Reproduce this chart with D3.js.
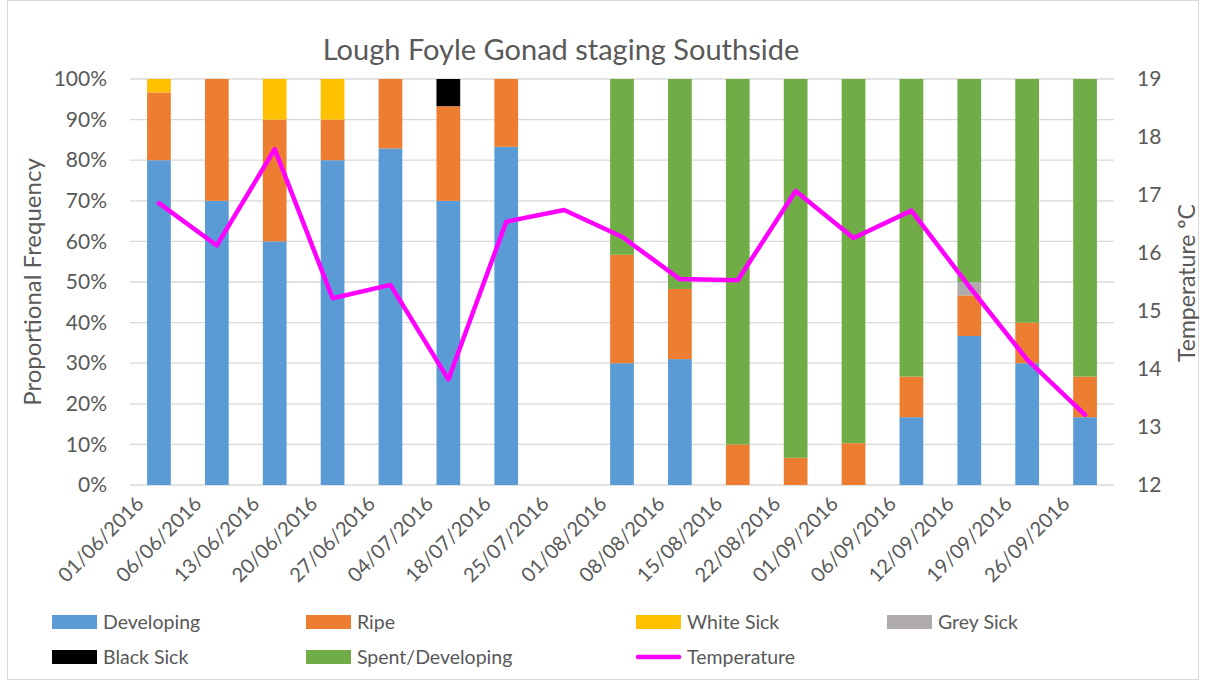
<!DOCTYPE html>
<html>
<head>
<meta charset="utf-8">
<script src="https://cdnjs.cloudflare.com/ajax/libs/d3/7.8.5/d3.min.js"></script>
<style>
  body { margin: 0; background: #fff; }
  text { font-family: Lato, "Open Sans", sans-serif; fill: #595959; }
</style>
</head>
<body>
<div id="chart"></div>
<script>
// sample dates (x categories)
var dates = ["01/06/2016","06/06/2016","13/06/2016","20/06/2016","27/06/2016","04/07/2016",
             "18/07/2016","25/07/2016","01/08/2016","08/08/2016","15/08/2016","22/08/2016",
             "01/09/2016","06/09/2016","12/09/2016","19/09/2016","26/09/2016"];

// gonad stage proportions, in %
var developing = [80, 70, 60, 80, 82.9, 70, 83.3, 0, 30, 31, 0, 0, 0, 16.7, 36.7, 30, 16.7];
var ripe       = [16.7, 30, 30, 10, 17.1, 23.3, 16.7, 0, 26.7, 17.3, 10, 6.7, 10.3, 10, 10, 10, 10];
var whiteSick  = [3.3, 0, 10, 10, 0, 0, 0, 0, 0, 0, 0, 0, 0, 0, 0, 0, 0];
var greySick   = [0, 0, 0, 0, 0, 0, 0, 0, 0, 0, 0, 0, 0, 0, 3.3, 0, 0];
var blackSick  = [0, 0, 0, 0, 0, 6.7, 0, 0, 0, 0, 0, 0, 0, 0, 0, 0, 0];
var spent      = [0, 0, 0, 0, 0, 0, 0, 0, 43.3, 51.7, 90, 93.3, 89.7, 73.3, 50, 60, 73.3];

// water temperature, deg C (right axis)
var temperature = [16.86, 16.13, 17.79, 15.22, 15.45, 13.82, 16.54, 16.74, 16.28,
                   15.55, 15.53, 17.07, 16.26, 16.73, 15.42, 14.16, 13.21];

var pctTicks  = [0, 0.1, 0.2, 0.3, 0.4, 0.5, 0.6, 0.7, 0.8, 0.9, 1];
var tempTicks = [12, 13, 14, 15, 16, 17, 18, 19];

var series = [
  {key: "Developing",      values: developing, color: "#5B9BD5"},
  {key: "Ripe",            values: ripe,       color: "#ED7D31"},
  {key: "White Sick",      values: whiteSick,  color: "#FFC000"},
  {key: "Grey Sick",       values: greySick,   color: "#AFABAB"},
  {key: "Black Sick",      values: blackSick,  color: "#000000"},
  {key: "Spent/Developing",values: spent,      color: "#70AD47"}
];

// rows for d3.stack
var rows = dates.map(function(d, i) {
  var r = {date: d};
  series.forEach(function(s) { r[s.key] = s.values[i] / 100; });
  return r;
});

var W = 1206, H = 683;
var plot = {left: 130, right: 1114, top: 79, bottom: 485};

var svg = d3.select("#chart").append("svg")
  .attr("width", W).attr("height", H);

// chart border
svg.append("rect")
  .attr("x", 7.5).attr("y", 0.5).attr("width", 1191).attr("height", 679)
  .attr("fill", "none").attr("stroke", "#d9d9d9").attr("stroke-width", 1);

var x = d3.scaleBand().domain(dates).range([plot.left, plot.right])
  .paddingInner(0.59).paddingOuter(0.295);
var y = d3.scaleLinear().domain([0, 1]).range([plot.bottom, plot.top]);
var yT = d3.scaleLinear().domain([12, 19]).range([plot.bottom, plot.top]);

// gridlines
svg.append("g").selectAll("line").data(pctTicks).enter().append("line")
  .attr("x1", plot.left).attr("x2", plot.right)
  .attr("y1", function(d) { return y(d); }).attr("y2", function(d) { return y(d); })
  .attr("stroke", "#d9d9d9").attr("stroke-width", 1.3);

// left axis
var yAxis = svg.append("g")
  .attr("transform", "translate(" + plot.left + ",0)")
  .call(d3.axisLeft(y).tickValues(pctTicks).tickFormat(d3.format(".0%")).tickSize(0).tickPadding(23));
yAxis.select(".domain").remove();
yAxis.selectAll("text").style("font-size", "21px").style("fill", "#595959")
  .style("font-family", "Lato, 'Open Sans', sans-serif");

// right axis
var yAxisR = svg.append("g")
  .attr("transform", "translate(" + plot.right + ",0)")
  .call(d3.axisRight(yT).tickValues(tempTicks).tickFormat(d3.format("d")).tickSize(0).tickPadding(23));
yAxisR.select(".domain").remove();
yAxisR.selectAll("text").style("font-size", "21px").style("fill", "#595959")
  .style("font-family", "Lato, 'Open Sans', sans-serif");

// stacked bars
var stacked = d3.stack().keys(series.map(function(s) { return s.key; }))(rows);
svg.append("g").selectAll("g").data(stacked).enter().append("g")
  .attr("fill", function(d, i) { return series[i].color; })
  .selectAll("rect").data(function(d) { return d; }).enter().append("rect")
  .attr("x", function(d) { return x(d.data.date); })
  .attr("width", x.bandwidth())
  .attr("y", function(d) { return y(d[1]); })
  .attr("height", function(d) { return y(d[0]) - y(d[1]); });

// temperature line
var line = d3.line()
  .x(function(d, i) { return x(dates[i]) + x.bandwidth() / 2; })
  .y(function(d) { return yT(d); });
svg.append("path").datum(temperature)
  .attr("d", line).attr("fill", "none")
  .attr("stroke", "#FF00FF").attr("stroke-width", 4.5)
  .attr("stroke-linejoin", "round").attr("stroke-linecap", "round");

// x labels, rotated
svg.append("g").selectAll("text").data(dates).enter().append("text")
  .attr("transform", function(d) {
    return "translate(" + (x(d) + x.bandwidth() / 2 - 14) + "," + (plot.bottom + 20) + ") rotate(-45)";
  })
  .attr("text-anchor", "end")
  .style("font-size", "20px")
  .text(function(d) { return d; });

// title
svg.append("text")
  .attr("x", 561).attr("y", 60)
  .attr("text-anchor", "middle")
  .style("font-size", "29px")
  .text("Lough Foyle Gonad staging Southside");

// axis titles
svg.append("text")
  .attr("transform", "translate(41,282) rotate(-90)")
  .attr("text-anchor", "middle")
  .style("font-size", "24px")
  .text("Proportional Frequency");

svg.append("text")
  .attr("transform", "translate(1195,283) rotate(-90)")
  .attr("text-anchor", "middle")
  .style("font-size", "23px")
  .text("Temperature ºC");

// legend
var legendItems = [
  {name: "Developing",       color: "#5B9BD5", col: 0, row: 0},
  {name: "Ripe",             color: "#ED7D31", col: 1, row: 0},
  {name: "White Sick",       color: "#FFC000", col: 2, row: 0},
  {name: "Grey Sick",        color: "#AFABAB", col: 3, row: 0},
  {name: "Black Sick",       color: "#000000", col: 0, row: 1},
  {name: "Spent/Developing", color: "#70AD47", col: 1, row: 1},
  {name: "Temperature",      color: "#FF00FF", col: 2, row: 1, line: true}
];
var colX = [52, 306, 636, 887];
var rowY = [622, 657];

var leg = svg.append("g").selectAll("g").data(legendItems).enter().append("g")
  .attr("transform", function(d) { return "translate(" + colX[d.col] + "," + rowY[d.row] + ")"; });

leg.filter(function(d) { return !d.line; }).append("rect")
  .attr("x", 0).attr("y", -7).attr("width", 45).attr("height", 14)
  .attr("fill", function(d) { return d.color; });

leg.filter(function(d) { return d.line; }).append("line")
  .attr("x1", 2).attr("x2", 43).attr("y1", 0).attr("y2", 0)
  .attr("stroke", function(d) { return d.color; })
  .attr("stroke-width", 4.5).attr("stroke-linecap", "round");

leg.append("text")
  .attr("x", 51).attr("y", 7)
  .style("font-size", "19.5px")
  .text(function(d) { return d.name; });
</script>
</body>
</html>
